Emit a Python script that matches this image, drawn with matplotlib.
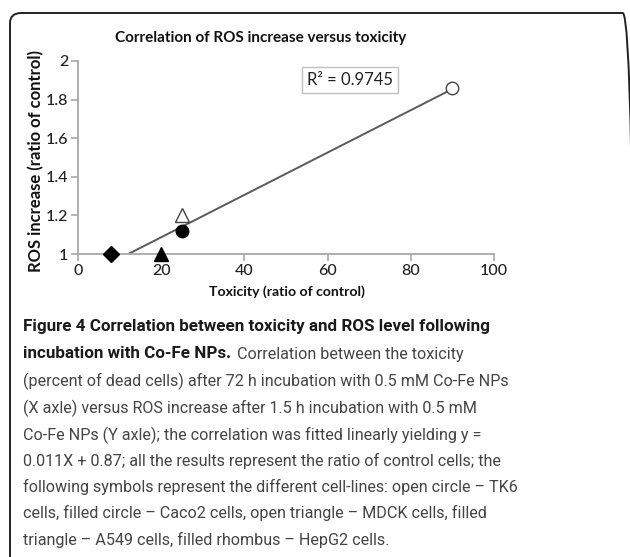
import matplotlib
matplotlib.use('Agg')
import matplotlib.pyplot as plt
import numpy as np
from matplotlib.patches import FancyBboxPatch

# ---- data ----
cell_lines = ['TK6', 'Caco2', 'MDCK', 'A549', 'HepG2']
toxicity = [90, 25, 25, 20, 8]
ros = [1.86, 1.12, 1.20, 1.00, 1.00]
marker_shapes = ['o', 'o', '^', '^', 'D']
marker_filled = [False, True, False, True, True]
r2_label = 'R² = 0.9745'
x_ticks = [0, 20, 40, 60, 80, 100]
y_ticks = [1, 1.2, 1.4, 1.6, 1.8, 2]
y_tick_labels = ['1', '1.2', '1.4', '1.6', '1.8', '2']
title = 'Correlation of ROS increase versus toxicity'
x_label = 'Toxicity (ratio of control)'
y_label = 'ROS increase (ratio of control)'

bold_line1 = 'Figure 4 Correlation between toxicity and ROS level following'
bold_line2 = 'incubation with Co-Fe NPs.'
normal_line2 = 'Correlation between the toxicity'
normal_lines = [
    '(percent of dead cells) after 72 h incubation with 0.5 mM Co-Fe NPs',
    '(X axle) versus ROS increase after 1.5 h incubation with 0.5 mM',
    'Co-Fe NPs (Y axle); the correlation was fitted linearly yielding y =',
    '0.011X + 0.87; all the results represent the ratio of control cells; the',
    'following symbols represent the different cell-lines: open circle \u2013 TK6',
    'cells, filled circle \u2013 Caco2 cells, open triangle \u2013 MDCK cells, filled',
    'triangle \u2013 A549 cells, filled rhombus \u2013 HepG2 cells.',
]

W, H = 630, 557
fig = plt.figure(figsize=(W / 100, H / 100), dpi=100)
fig.patch.set_facecolor('white')

def fx(px):
    return px / W

def fy(py):
    return 1 - py / H

# rounded border
border = FancyBboxPatch((fx(10), fy(575)), fx(634) - fx(10), fy(13) - fy(575),
                        boxstyle='round,pad=0,rounding_size=0.018',
                        transform=fig.transFigure, fill=False,
                        edgecolor='#222222', linewidth=1.4, clip_on=False)
fig.patches.append(border)

chart_font = 'Lato'
ax = fig.add_axes([fx(78), fy(254), fx(494) - fx(78), fy(61) - fy(254)])
ax.set_xlim(0, 100)
ax.set_ylim(1, 2)
for s in ['top', 'right']:
    ax.spines[s].set_visible(False)
for s in ['left', 'bottom']:
    ax.spines[s].set_color('#a8a8a8')
    ax.spines[s].set_linewidth(1.3)
ax.set_xticks(x_ticks)
ax.set_xticklabels([str(v) for v in x_ticks])
ax.set_yticks(y_ticks)
ax.set_yticklabels(y_tick_labels)
ax.tick_params(axis='both', direction='out', length=5, width=1.2, color='#a8a8a8',
               labelsize=11.5, labelcolor='#222222', pad=2)
for lab in ax.get_xticklabels() + ax.get_yticklabels():
    lab.set_fontfamily(chart_font)
    lab.set_fontweight('medium')

# trend line
coef = np.polyfit(toxicity, ros, 1)
xs = np.array([min(toxicity), max(toxicity)])
ax.plot(xs, np.polyval(coef, xs), color='#5a5a5a', linewidth=1.4, zorder=2)

for x, y, m, f in zip(toxicity, ros, marker_shapes, marker_filled):
    size = {'o': 9, '^': 10, 'D': 8.5}[m]
    ax.plot([x], [y], marker=m, markersize=size, linestyle='none',
            markerfacecolor='black' if f else 'white',
            markeredgecolor='#444444' if not f else 'black',
            markeredgewidth=1.0, clip_on=False, zorder=3)

ax.text(0.654, 0.904, r2_label, transform=ax.transAxes, ha='center', va='center',
        fontsize=12, fontfamily=chart_font, color='#222222',
        bbox=dict(boxstyle='square,pad=0.3', facecolor='white', edgecolor='#c0c0c0', linewidth=1.0))

fig.text(fx(261), fy(38), title, ha='center', va='center', fontsize=11,
         fontweight='bold', fontfamily=chart_font, color='#111111')
fig.text(fx(287), fy(292), x_label, ha='center', va='center', fontsize=10.1,
         fontweight='bold', fontfamily=chart_font, color='#111111')
fig.text(fx(36), fy(161), y_label, ha='center', va='center', fontsize=12,
         fontweight='bold', fontfamily=chart_font, color='#111111', rotation=90)

# caption
cap_font = 'Roboto'
fig.canvas.draw()
renderer = fig.canvas.get_renderer()

def fit_size(text, target_px, weight):
    t = fig.text(0, 0, text, fontsize=10, fontweight=weight, fontfamily=cap_font)
    w = t.get_window_extent(renderer).width
    t.remove()
    return 10 * target_px / w

bold_size = fit_size(bold_line1, 467, 'bold')
norm_size = fit_size(normal_lines[0], 485, 'normal')

x0 = fx(23)
line_y = [327, 354, 381, 408, 435, 461, 487, 513, 540]
fig.text(x0, fy(line_y[0]), bold_line1, ha='left', va='center', fontsize=bold_size,
         fontweight='bold', fontfamily=cap_font, color='#1a1a1a')
tb = fig.text(x0, fy(line_y[1]), bold_line2, ha='left', va='center', fontsize=bold_size,
              fontweight='bold', fontfamily=cap_font, color='#1a1a1a')
bb = tb.get_window_extent(renderer)
fig.text(fx(bb.x1 + 6), fy(line_y[1]), normal_line2, ha='left', va='center',
         fontsize=norm_size, fontfamily=cap_font, color='#444444')
for txt, yy in zip(normal_lines, line_y[2:]):
    fig.text(x0, fy(yy), txt, ha='left', va='center', fontsize=norm_size,
             fontfamily=cap_font, color='#444444')

fig.savefig('out.png', dpi=100, facecolor='white')
